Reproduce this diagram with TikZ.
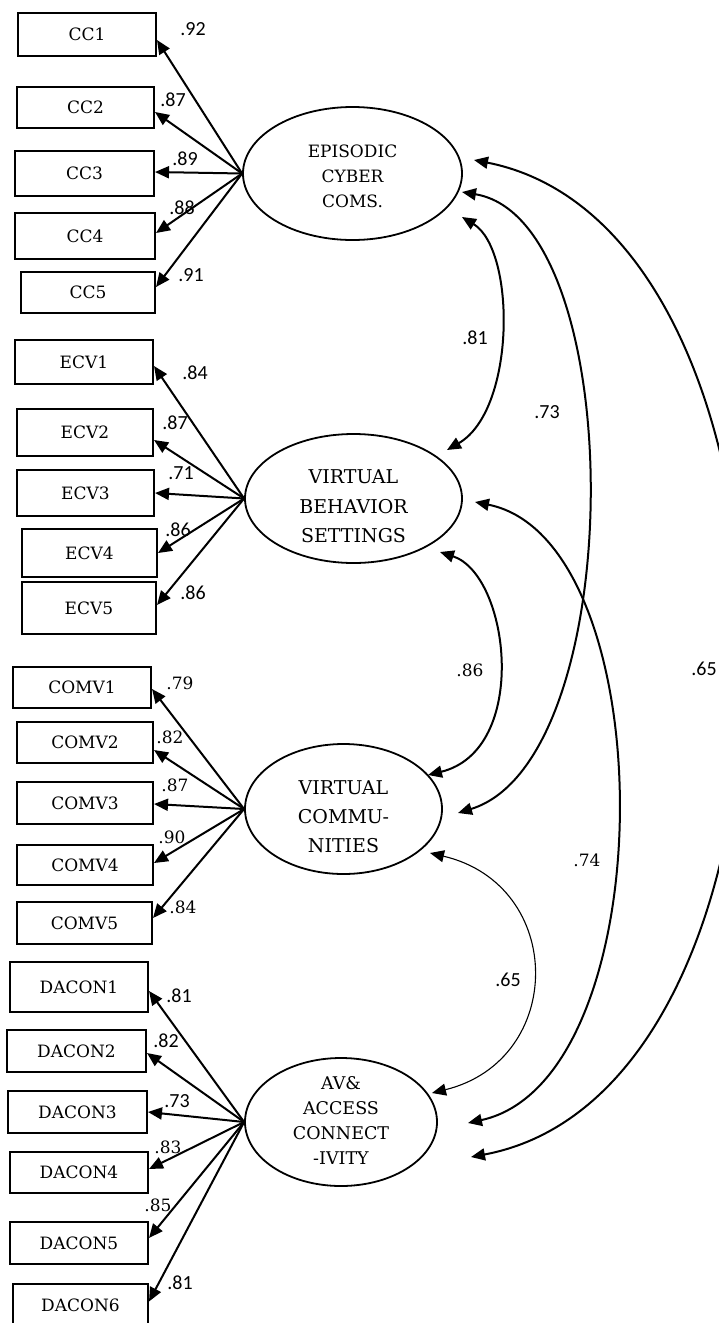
\documentclass[tikz,border=0pt]{standalone}
\usepackage{fontspec}
\setmainfont{DejaVu Serif}
\newfontfamily\carl{Carlito}
\usetikzlibrary{arrows.meta,shapes.geometric,calc}
\begin{document}
\begin{tikzpicture}[x=1pt,y=-1pt,
  ind/.style={draw,line width=2pt,rectangle,inner sep=0pt,font=\fontsize{17}{20}\selectfont},
  lat/.style={draw,line width=1.8pt,ellipse,inner sep=0pt},
  lattxt/.style={align=center,inner sep=0pt},
  load/.style={line width=2pt,-{Triangle[length=14pt,width=12pt]}},
  cov/.style={line width=2pt,{Triangle[length=14pt,width=12pt]}-{Triangle[length=14pt,width=12pt]}},
  covthin/.style={line width=1.1pt,{Triangle[length=14pt,width=12pt]}-{Triangle[length=14pt,width=12pt]}},
  lsans/.style={inner sep=0pt,font=\carl\fontsize{20}{22}\selectfont},
  lserif/.style={inner sep=0pt,font=\fontsize{17}{20}\selectfont}]
\clip (0,0) rectangle (719,1323);
\fill[white] (0,0) rectangle (719,1323);

% latent variables
\node[lat,minimum width=219pt,minimum height=133pt] (e1) at (352.5,173.5) {};
\node[lat,minimum width=217pt,minimum height=129pt] (e2) at (353.5,498.5) {};
\node[lat,minimum width=197pt,minimum height=130pt] (e3) at (343.5,809) {};
\node[lat,minimum width=192pt,minimum height=128pt] (e4) at (341,1122) {};
\node[lattxt,font=\fontsize{17}{25}\selectfont] (t1) at (352.5,176) {EPISODIC\\CYBER\\COMS.};
\node[lattxt,font=\fontsize{19}{29.5}\selectfont] (t2) at (353.5,506.5) {VIRTUAL\\BEHAVIOR\\SETTINGS};
\node[lattxt,font=\fontsize{19}{29}\selectfont] (t3) at (343.5,816.5) {VIRTUAL\\COMMU-\\NITIES};
\node[lattxt,font=\fontsize{17.5}{25}\selectfont] (t4) at (341,1120.5) {AV\&\\ACCESS\\CONNECT\\-IVITY};

% indicators
\node[ind,minimum width=138pt,minimum height=43pt] (cc1) at (87,34.5) {CC1};
\node[ind,minimum width=137pt,minimum height=41pt] (cc2) at (85.5,107.5) {CC2};
\node[ind,minimum width=139pt,minimum height=45pt] (cc3) at (84.5,173.5) {CC3};
\node[ind,minimum width=140pt,minimum height=46pt] (cc4) at (85,236) {CC4};
\node[ind,minimum width=134pt,minimum height=41pt] (cc5) at (88,292.5) {CC5};

\node[ind,minimum width=138pt,minimum height=44pt] (ecv1) at (84,362) {ECV1};
\node[ind,minimum width=136pt,minimum height=47pt] (ecv2) at (85,432.5) {ECV2};
\node[ind,minimum width=137pt,minimum height=46pt] (ecv3) at (85.5,493) {ECV3};
\node[ind,minimum width=135pt,minimum height=48pt] (ecv4) at (89.5,553) {ECV4};
\node[ind,minimum width=134pt,minimum height=52pt] (ecv5) at (89,608) {ECV5};

\node[ind,minimum width=138pt,minimum height=41pt] (comv1) at (82,687.5) {COMV1};
\node[ind,minimum width=136pt,minimum height=41pt] (comv2) at (85,742.5) {COMV2};
\node[ind,minimum width=136pt,minimum height=42pt] (comv3) at (85,803) {COMV3};
\node[ind,minimum width=136pt,minimum height=40pt] (comv4) at (85,865) {COMV4};
\node[ind,minimum width=135pt,minimum height=42pt] (comv5) at (84.5,923) {COMV5};

\node[ind,minimum width=138pt,minimum height=50pt] (dacon1) at (79,987) {DACON1};
\node[ind,minimum width=139pt,minimum height=42pt] (dacon2) at (76.5,1051) {DACON2};
\node[ind,minimum width=139pt,minimum height=42pt] (dacon3) at (77.5,1112) {DACON3};
\node[ind,minimum width=138pt,minimum height=41pt] (dacon4) at (79,1172.5) {DACON4};
\node[ind,minimum width=138pt,minimum height=42pt] (dacon5) at (79,1243) {DACON5};
\node[ind,minimum width=135pt,minimum height=42pt] (dacon6) at (80.5,1305) {DACON6};

% loadings
\draw[load] (e1.west) -- ([yshift=-5.5pt]cc1.east);
\draw[load] (e1.west) -- ([yshift=-4.5pt]cc2.east);
\draw[load] (e1.west) -- ([yshift=1.5pt]cc3.east);
\draw[load] (e1.west) -- ([yshift=3pt]cc4.east);
\draw[load] (e1.west) -- ([yshift=5.5pt]cc5.east);

\draw[load] (e2.west) -- ([yshift=-4pt]ecv1.east);
\draw[load] (e2.west) -- ([yshift=-7.5pt]ecv2.east);
\draw[load] (e2.west) -- (ecv3.east);
\draw[load] (e2.west) -- (ecv4.east);
\draw[load] (e2.west) -- ([yshift=3pt]ecv5.east);

\draw[load] (e3.west) -- ([yshift=-1.5pt]comv1.east);
\draw[load] (e3.west) -- ([yshift=-7.5pt]comv2.east);
\draw[load] (e3.west) -- ([yshift=-1pt]comv3.east);
\draw[load] (e3.west) -- ([yshift=2pt]comv4.east);
\draw[load] (e3.west) -- ([yshift=5pt]comv5.east);

\draw[load] (e4.west) -- ([yshift=-4pt]dacon1.east);
\draw[load] (e4.west) -- ([yshift=-2pt]dacon2.east);
\draw[load] (e4.west) -- (dacon3.east);
\draw[load] (e4.west) -- ([yshift=3.5pt]dacon4.east);
\draw[load] (e4.west) -- ([yshift=5pt]dacon5.east);
\draw[load] (e4.west) -- ([yshift=3.5pt]dacon6.east);

% loading labels
\node[lsans] (l1) at (193,29) {.92};
\node[lsans] (l2) at (173,100) {.87};
\node[lsans] (l3) at (185,159) {.89};
\node[lsans] (l4) at (182,208) {.88};
\node[lsans] (l5) at (191,275) {.91};
\node[lsans] (l6) at (195,373) {.84};
\node[lsans] (l7) at (175,423) {.87};
\node[lsans] (l8) at (181,473) {.71};
\node[lsans] (l9) at (178,530) {.86};
\node[lsans] (l10) at (193,593) {.86};
\node[lserif] (l11) at (180,683) {.79};
\node[lserif] (l12) at (170,737) {.82};
\node[lserif] (l13) at (175,785) {.87};
\node[lserif] (l14) at (172,837) {.90};
\node[lserif] (l15) at (183,907) {.84};
\node[lsans] (l16) at (179,996) {.81};
\node[lsans] (l17) at (166,1041) {.82};
\node[lsans] (l18) at (177,1101) {.73};
\node[lserif] (l19) at (168,1147) {.83};
\node[lserif] (l20) at (158,1205) {.85};
\node[lsans] (l21) at (180,1283) {.81};

% covariance end points
\coordinate (a12) at (462,217);  \coordinate (b12) at (447,450);
\coordinate (a13) at (462,192);  \coordinate (b13) at (458,813);
\coordinate (a14) at (474,160);  \coordinate (b14) at (471,1157);
\coordinate (a23) at (440,552);  \coordinate (b23) at (428,775);
\coordinate (a24) at (475,502);  \coordinate (b24) at (468,1123);
\coordinate (a34) at (430,853);  \coordinate (b34) at (432,1093);

\draw[cov] (a12) .. controls (516,250) and (516,410) .. (b12);
\draw[cov] (a13) .. controls (630,220) and (630,760) .. (b13);
\draw[cov] (a14) .. controls (830,230) and (830,1090) .. (b14);
\draw[cov] (a23) .. controls (510,575) and (530,750) .. (b23);
\draw[cov] (a24) .. controls (665,540) and (665,1080) .. (b24);
\draw[covthin] (a34) .. controls (566,885) and (566,1060) .. (b34);

\node[lsans] (r12) at (475,338) {.81};
\node[lsans] (r13) at (547,412) {.73};
\node[lsans] (r14) at (704,669) {.65};
\node[lserif] (r23) at (470,670) {.86};
\node[lserif] (r24) at (587,860) {.74};
\node[lsans] (r34) at (508,980) {.65};
\end{tikzpicture}
\end{document}
